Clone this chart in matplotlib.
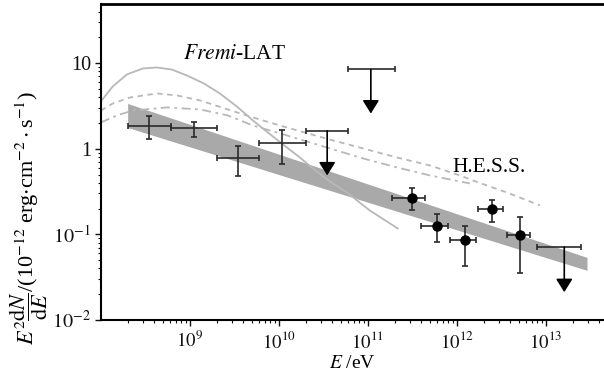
import matplotlib
matplotlib.use('Agg')
import matplotlib.pyplot as plt
from matplotlib.ticker import FixedLocator, LogLocator, NullFormatter

plt.rcParams['font.family'] = ['Liberation Serif', 'DejaVu Serif']
plt.rcParams['mathtext.fontset'] = 'stix'

# model curves (E in eV, E^2 dN/dE in 1e-12 erg cm^-2 s^-1)
solid_e = [1.0e8, 1.36e8, 1.96e8, 2.96e8, 4.26e8, 6.28e8, 9.25e8, 1.44e9, 2.17e9, 3.37e9,
           5.11e9, 7.52e9, 1.08e10, 1.72e10, 2.41e10, 3.74e10, 5.81e10, 1.05e11, 2.17e11]
solid_f = [3.57, 5.35, 7.38, 8.67, 8.91, 8.43, 7.18, 5.79, 4.43, 3.12,
           2.14, 1.55, 1.15, 0.791, 0.589, 0.415, 0.309, 0.190, 0.117]

dash_e = [1.0e8, 1.36e8, 2.12e8, 4.26e8, 7.14e8, 1.30e9, 2.67e9, 5.11e9, 1.23e10, 3.74e10,
          8.79e10, 2.12e11, 4.98e11, 1.08e12, 1.51e12, 3.65e12, 8.57e12]
dash_f = [2.80, 3.38, 3.97, 4.43, 4.20, 3.67, 2.88, 2.32, 1.77, 1.28,
          1.01, 0.791, 0.638, 0.488, 0.426, 0.308, 0.218]

dashdot_e = [1.0e8, 1.51e8, 2.29e8, 5.52e8, 1.30e9, 2.67e9, 5.11e9, 1.23e10, 3.74e10,
             8.79e10, 2.12e11, 4.98e11, 1.08e12, 1.40e12]
dashdot_f = [2.03, 2.45, 2.80, 3.04, 2.88, 2.45, 1.87, 1.43, 1.01,
             0.771, 0.605, 0.488, 0.415, 0.393]

# butterfly band
band_e = [2.0e8, 2.9e13]
band_hi = [3.38, 0.0537]
band_lo = [1.77, 0.0379]

# Fermi-LAT points
lat_e = [3.49e8, 1.11e9, 3.49e9, 1.09e10]
lat_elo = [2.0e8, 6.07e8, 2.02e9, 6.0e9]
lat_ehi = [6.07e8, 2.01e9, 6.01e9, 2.0e10]
lat_f = [1.84, 1.74, 0.777, 1.16]
lat_flo = [1.31, 1.39, 0.479, 0.661]
lat_fhi = [2.43, 2.03, 1.07, 1.67]

# H.E.S.S. points
hess_e = [3.10e11, 5.92e11, 1.22e12, 2.47e12, 5.1e12]
hess_elo = [1.85e11, 3.91e11, 8.28e11, 1.75e12, 3.67e12]
hess_ehi = [4.4e11, 7.93e11, 1.65e12, 3.26e12, 6.6e12]
hess_f = [0.265, 0.126, 0.0849, 0.197, 0.097]
hess_flo = [0.190, 0.081, 0.043, 0.139, 0.0352]
hess_fhi = [0.347, 0.174, 0.126, 0.249, 0.159]

# upper limits
ul_e = [3.49e10, 1.08e11, 1.61e13]
ul_elo = [2.0e10, 5.96e10, 7.87e12]
ul_ehi = [6.01e10, 2.01e11, 2.45e13]
ul_f = [1.62, 8.44, 0.0708]
ul_end = [0.488, 2.58, 0.0211]

fig = plt.figure(figsize=(6.04, 3.75), dpi=100)
ax = fig.add_axes([0.167, 0.147, 0.833, 0.842])

ax.fill_between(band_e, band_lo, band_hi, color='#a9a9a9', lw=0)
ax.plot(solid_e, solid_f, color='#b8b8b8', lw=1.3)
ax.plot(dash_e, dash_f, color='#b8b8b8', lw=1.3, ls=(0, (3, 2.5)))
ax.plot(dashdot_e, dashdot_f, color='#b8b8b8', lw=1.3, ls=(0, (5, 2.5, 1.5, 2.5)))

ebar = '#2a2a2a'
ax.errorbar(lat_e, lat_f,
            xerr=[[c - l for c, l in zip(lat_e, lat_elo)], [h - c for c, h in zip(lat_e, lat_ehi)]],
            yerr=[[c - l for c, l in zip(lat_f, lat_flo)], [h - c for c, h in zip(lat_f, lat_fhi)]],
            fmt='none', ecolor=ebar, elinewidth=1.2, capsize=2, capthick=1.2)
ax.errorbar(hess_e, hess_f,
            xerr=[[c - l for c, l in zip(hess_e, hess_elo)], [h - c for c, h in zip(hess_e, hess_ehi)]],
            yerr=[[c - l for c, l in zip(hess_f, hess_flo)], [h - c for c, h in zip(hess_f, hess_fhi)]],
            fmt='o', color='black', ms=6.5, ecolor=ebar, elinewidth=1.2, capsize=2, capthick=1.2)

for e, lo, hi, f, end in zip(ul_e, ul_elo, ul_ehi, ul_f, ul_end):
    ax.errorbar([e], [f], xerr=[[e - lo], [hi - e]], fmt='none', ecolor=ebar,
                elinewidth=1.2, capsize=2, capthick=1.2)
    ax.annotate('', xy=(e, end), xytext=(e, f),
                arrowprops=dict(arrowstyle='-|>,head_length=0.8,head_width=0.5',
                                color='black', lw=1.2, shrinkA=0, shrinkB=0))

ax.text(8.3e8, 12.5, r'$\mathit{Fremi}$-LAT', fontsize=15.5, ha='left', va='center')
ax.text(9.0e11, 0.60, 'H.E.S.S.', fontsize=15.5, ha='left', va='center')

ax.set_xscale('log')
ax.set_yscale('log')
ax.set_xlim(1e8, 4.5e13)
ax.set_ylim(1e-2, 49)

ax.xaxis.set_major_locator(FixedLocator([1e9, 1e10, 1e11, 1e12, 1e13]))
ax.xaxis.set_minor_locator(LogLocator(base=10, subs=range(2, 10), numticks=20))
ax.xaxis.set_minor_formatter(NullFormatter())
ax.set_xticklabels([r'$10^{9}$', r'$10^{10}$', r'$10^{11}$', r'$10^{12}$', r'$10^{13}$'])
ax.yaxis.set_major_locator(FixedLocator([1e-2, 1e-1, 1, 10]))
ax.yaxis.set_minor_locator(LogLocator(base=10, subs=range(2, 10), numticks=20))
ax.yaxis.set_minor_formatter(NullFormatter())
ax.set_yticklabels([r'$10^{-2}$', r'$10^{-1}$', '1', '10'])

ax.tick_params(which='both', direction='out', colors='#111111')
ax.tick_params(axis='x', labelsize=13.5, pad=4)
ax.tick_params(axis='y', labelsize=14.5, pad=3)
ax.tick_params(which='major', length=4, width=1)
ax.tick_params(which='minor', length=2.5, width=0.8)

ax.spines['right'].set_visible(False)
ax.spines['top'].set_linewidth(2)
ax.spines['left'].set_linewidth(1.5)
ax.spines['bottom'].set_linewidth(1.5)

ax.set_xlabel(r'$E$ /eV', fontsize=14, labelpad=2)
fig.text(0.047, 0.42,
         r'$E^2\dfrac{\mathrm{d}N}{\mathrm{d}E}$/(10$^{-12}$ erg$\cdot$cm$^{-2}\cdot$s$^{-1}$)',
         rotation=90, fontsize=16, ha='center', va='center')

plt.savefig('out.png', dpi=100)
